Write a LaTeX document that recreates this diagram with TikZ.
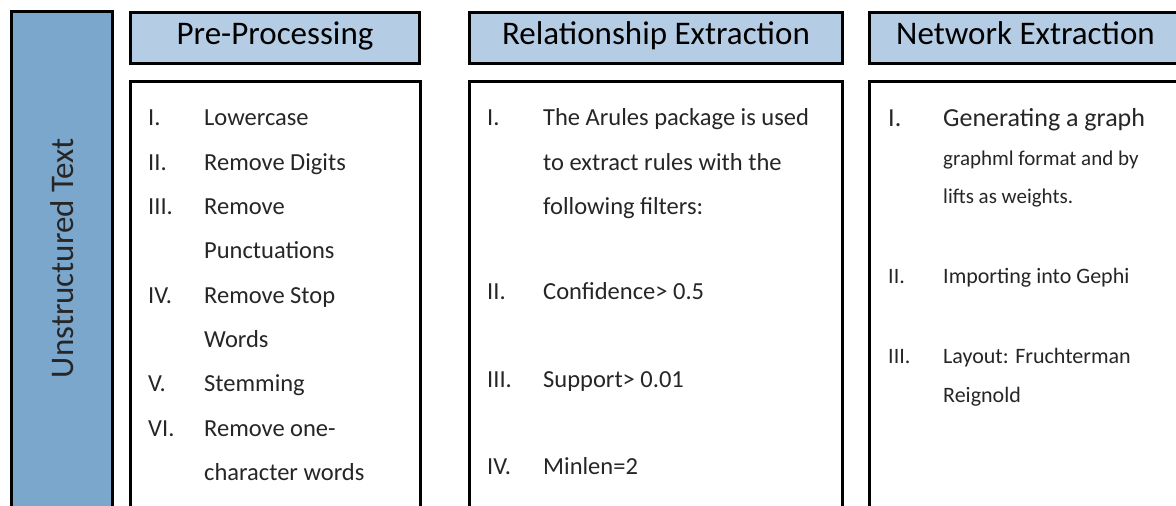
\documentclass[tikz,border=0pt]{standalone}
\usepackage{fontspec}
\setmainfont{Carlito}
\usetikzlibrary{positioning}
\definecolor{stageBar}{HTML}{7CA7CC}
\definecolor{stageHead}{HTML}{B4CDE4}
\colorlet{stageText}{black!85}
\tikzstyle{panel}=[draw=black, line width=3pt, fill=white]
\tikzstyle{head}=[panel, fill=stageHead, minimum height=51pt, inner ysep=1pt, text height=1.3em, text depth=0pt, font=\fontsize{33}{40}\selectfont]
\tikzstyle{itemnum}=[anchor=base west, inner sep=0pt, text=stageText, font=\fontsize{24.5}{30}\selectfont]
\tikzstyle{itemtxt}=[itemnum]

\begin{document}
\begin{tikzpicture}[x=1pt, y=-1pt]
	\useasboundingbox (0,0) rectangle (1176,506);
	\clip (0,0) rectangle (1176,506);

	% Input bar
	\draw[panel, fill=stageBar] (11.5,11.5) rectangle (112.5,530);
	\node[rotate=90, font=\fontsize{33}{40}\selectfont, text=stageText] (unstr) at (62,258) {Unstructured Text};

	% Stage headers
	\node[head, minimum width=289pt] (pre) at (275,38) {Pre-Processing};
	\node[head, minimum width=373pt] (rel) at (656,38) {Relationship Extraction};
	\node[head, minimum width=312pt] (net) at (1025.5,38) {Network Extraction};

	% Stage bodies
	\draw[panel] (130.5,81.5) rectangle (420.5,530);
	\draw[panel] (469.5,81.5) rectangle (842.5,530);
	\draw[panel] (869.5,81.5) rectangle (1181.5,530);

	% Pre-Processing steps
	\foreach \n/\t/\yy [count=\i] in {I./Lowercase/125, II./Remove Digits/170, III./Remove/214, {}/Punctuations/258, IV./Remove Stop/303, {}/Words/347, V./Stemming/391, VI./Remove one-/436, {}/character words/480}{
		\node[itemnum] (pre-n\i) at (148,\yy) {\n};
		\node[itemtxt] (pre-t\i) at (204,\yy) {\t};
	}

	% Relationship Extraction steps
	\foreach \n/\t/\yy [count=\i] in {I./The Arules package is used/125, {}/to extract rules with the/170, {}/following filters:/214, II./Confidence> 0.5/299, III./Support> 0.01/387, IV./Minlen=2/474}{
		\node[itemnum] (rel-n\i) at (487,\yy) {\n};
		\node[itemtxt] (rel-t\i) at (543,\yy) {\t};
	}

	% Network Extraction steps
	\node[itemnum, font=\fontsize{26}{30}\selectfont] (net-n1) at (888,126) {I.};
	\node[itemtxt, font=\fontsize{26}{30}\selectfont] (net-t1) at (943,126) {Generating a graph};
	\node[itemtxt, font=\fontsize{21}{26}\selectfont] (net-t2) at (943,165) {graphml format and by};
	\node[itemtxt, font=\fontsize{21}{26}\selectfont] (net-t3) at (943,203) {lifts as weights.};
	\foreach \n/\t/\yy [count=\i from 4] in {II./Importing into Gephi/283, III./Layout: Fruchterman/363, {}/Reignold/402}{
		\node[itemnum, font=\fontsize{22}{26}\selectfont] (net-n\i) at (888,\yy) {\n};
		\node[itemtxt, font=\fontsize{22}{26}\selectfont] (net-t\i) at (943,\yy) {\t};
	}
\end{tikzpicture}
\end{document}
